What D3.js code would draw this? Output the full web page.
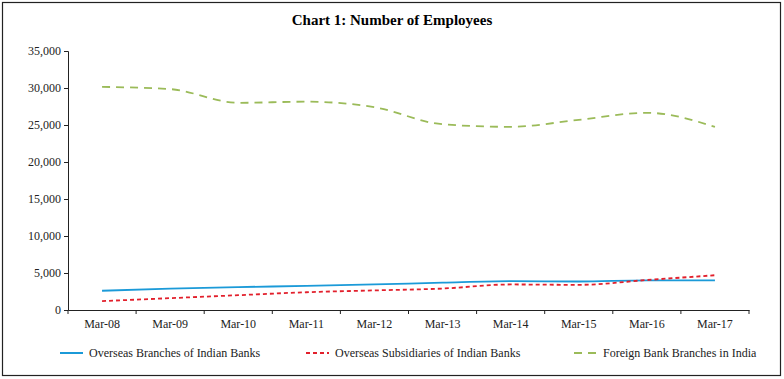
<!DOCTYPE html>
<html>
<head>
<meta charset="utf-8">
<script src="https://cdn.jsdelivr.net/npm/d3@7"></script>
<style>
  body { margin: 0; background: #fff; }
  text { font-family: "Liberation Serif", "DejaVu Serif", serif; }
</style>
</head>
<body>
<div id="chart"></div>
<script>
// values
const categories = ["Mar-08", "Mar-09", "Mar-10", "Mar-11", "Mar-12", "Mar-13", "Mar-14", "Mar-15", "Mar-16", "Mar-17"];
const overseasBranches = [2600, 2900, 3100, 3250, 3450, 3700, 3900, 3850, 4000, 4000];
const overseasSubsidiaries = [1200, 1600, 2000, 2400, 2650, 2900, 3450, 3400, 4050, 4700];
const foreignBranches = [30150, 29850, 28000, 28150, 27400, 25100, 24750, 25700, 26650, 24750];
const yTicks = [0, 5000, 10000, 15000, 20000, 25000, 30000, 35000];

const width = 784, height = 379;
const margin = { left: 68, right: 35, top: 51, bottom: 69 };

const series = [
  { name: "Overseas Branches of Indian Banks", values: overseasBranches, color: "#1b9ad8", dash: null, lx: 60 },
  { name: "Overseas Subsidiaries of Indian Banks", values: overseasSubsidiaries, color: "#e2202c", dash: "4,3", lx: 306 },
  { name: "Foreign Bank Branches in India", values: foreignBranches, color: "#9bbb59", dash: "8,6", lx: 574 }
];

const svg = d3.select("#chart")
  .append("svg")
  .attr("width", width)
  .attr("height", height);

// outer frame
svg.append("rect")
  .attr("x", 2.5).attr("y", 2.5)
  .attr("width", 778).attr("height", 373)
  .attr("fill", "none")
  .attr("stroke", "#222")
  .attr("stroke-width", 1.2);

svg.append("text")
  .attr("x", 392).attr("y", 25)
  .attr("text-anchor", "middle")
  .style("font-size", "15px")
  .style("font-weight", "bold")
  .text("Chart 1: Number of Employees");

const x = d3.scaleBand()
  .domain(categories)
  .range([margin.left, width - margin.right]);

const y = d3.scaleLinear()
  .domain([0, 35000])
  .range([height - margin.bottom, margin.top]);

const yAxis = svg.append("g")
  .attr("transform", "translate(" + margin.left + ",0)")
  .call(d3.axisLeft(y).tickValues(yTicks).tickSize(4).tickFormat(d3.format(",")));

const xAxis = svg.append("g")
  .attr("transform", "translate(0," + y(0) + ")")
  .call(d3.axisBottom(x).tickSize(0).tickPadding(9));

// ticks at the band edges, as in the reference
xAxis.selectAll(".edge")
  .data(categories.map(c => x(c)).concat([x.range()[1]]))
  .enter()
  .append("line")
  .attr("x1", d => d).attr("x2", d => d)
  .attr("y1", 0).attr("y2", 4)
  .attr("stroke", "#222");

[xAxis, yAxis].forEach(function (g) {
  g.select(".domain").attr("stroke", "#222");
  g.selectAll(".tick line").attr("stroke", "#222");
  g.selectAll("text")
    .style("font-family", "'Liberation Serif', serif")
    .style("font-size", "12px")
    .attr("fill", "#222");
});

const line = d3.line()
  .x((d, i) => x(categories[i]) + x.bandwidth() / 2)
  .y(d => y(d))
  .curve(d3.curveMonotoneX);

svg.selectAll(".series")
  .data(series)
  .enter()
  .append("path")
  .attr("class", "series")
  .attr("d", d => line(d.values))
  .attr("fill", "none")
  .attr("stroke", d => d.color)
  .attr("stroke-width", 1.8)
  .attr("stroke-dasharray", d => d.dash);

// legend
const legend = svg.selectAll(".legend")
  .data(series)
  .enter()
  .append("g")
  .attr("class", "legend")
  .attr("transform", d => "translate(" + d.lx + ",353)");

legend.append("line")
  .attr("x1", 0).attr("x2", 23)
  .attr("y1", 0).attr("y2", 0)
  .attr("stroke", d => d.color)
  .attr("stroke-width", 2)
  .attr("stroke-dasharray", d => d.dash);

legend.append("text")
  .attr("x", 29).attr("y", 4)
  .style("font-size", "12px")
  .attr("fill", "#222")
  .text(d => d.name);
</script>
</body>
</html>
